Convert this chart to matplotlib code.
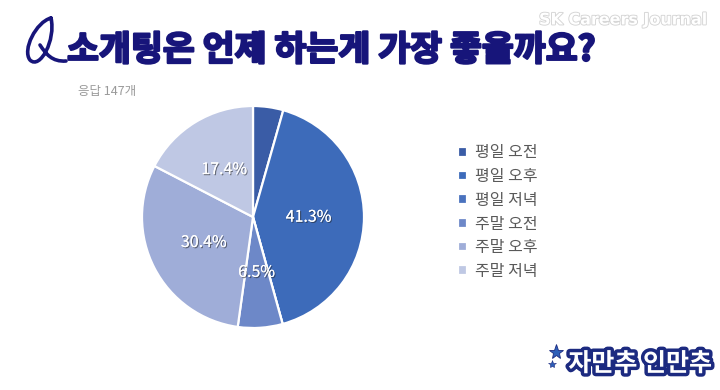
import matplotlib
matplotlib.use("Agg")
import matplotlib.pyplot as plt
import matplotlib.patheffects as pe
from matplotlib.patches import PathPatch
from matplotlib.path import Path

plt.rcParams["font.family"] = ["Noto Sans CJK KR", "DejaVu Sans"]

# data
categories = ["평일 오전", "평일 오후", "평일 저녁", "주말 오전", "주말 오후", "주말 저녁"]
shares = [4.4, 41.3, 0.0, 6.5, 30.4, 17.4]
colors = ["#3A5CA6", "#3D6BBA", "#4A72BE", "#6D88C8", "#9FADD8", "#BFC8E4"]
title = "소개팅은 언제 하는게 가장 좋을까요?"
note = "응답 147개"
NAVY = "#17157A"

W, H = 720, 390
fig = plt.figure(figsize=(W / 100, H / 100), dpi=100)
fig.patch.set_facecolor("white")

# pie axes placed by pixel geometry
cx, cy, r = 253, 217, 111
ax = fig.add_axes([(cx - r) / W, (H - cy - r) / H, 2 * r / W, 2 * r / H])
ax.set_aspect("equal")


def pct_label(p):
    return f"{p:.1f}%" if p >= 5 else ""


wedges, texts, autotexts = ax.pie(
    shares, colors=colors, startangle=90, counterclock=False,
    autopct=pct_label, pctdistance=0.5,
    wedgeprops=dict(edgecolor="white", linewidth=1.6),
    textprops=dict(color="white", fontsize=11.5, fontweight="medium"))
for t in autotexts:
    t.set_path_effects([pe.withSimplePatchShadow(offset=(0.8, -0.8),
                                                 shadow_rgbFace="#222222",
                                                 alpha=0.55),
                        pe.Normal()])
ax.set_xlim(-1.0, 1.0)
ax.set_ylim(-1.0, 1.0)

# legend on the right
fig.legend(wedges, categories, loc="upper left",
           bbox_to_anchor=(452 / W, 1 - 138 / H), frameon=False,
           fontsize=11.5, labelcolor="#595959", handlelength=0.55,
           handleheight=0.55, handletextpad=0.5, labelspacing=0.42,
           borderaxespad=0)

# title and notes
fig.text(67 / W, 1 - 50 / H, title, fontsize=25, fontweight="bold",
         color=NAVY, va="center", ha="left",
         path_effects=[pe.withStroke(linewidth=1.6, foreground=NAVY)])
fig.text(708 / W, 1 - 20 / H, "SK Careers Journal", fontsize=11.5,
         fontweight="bold", color="white", va="center", ha="right",
         family=["DejaVu Sans"],
         path_effects=[pe.withStroke(linewidth=1.3, foreground="#D4D4D4")])
fig.text(78 / W, 1 - 92 / H, note, fontsize=9, color="#9A9A9A",
         va="center", ha="left")

# Q-shaped logo at the top left
lax = fig.add_axes([0, 0, 1, 1], facecolor="none")
lax.set_xlim(0, W)
lax.set_ylim(H, 0)
lax.axis("off")
verts = [(51, 18), (36, 22), (22, 50), (30, 60),
         (40, 70), (56, 40), (51, 18),
         (40, 45), (46, 54), (52, 62), (66, 61)]
codes = [Path.MOVETO, Path.CURVE4, Path.CURVE4, Path.CURVE4,
         Path.CURVE4, Path.CURVE4, Path.CURVE4,
         Path.MOVETO, Path.CURVE4, Path.CURVE4, Path.CURVE4]
lax.add_patch(PathPatch(Path(verts, codes), facecolor="none",
                        edgecolor=NAVY, linewidth=2.6, capstyle="round"))

# badge at bottom right
fig.text(712 / W, 1 - 364 / H, "자만추 인만추", fontsize=18,
         fontweight="black", color="white", ha="right", va="center",
         path_effects=[pe.withStroke(linewidth=5, foreground="#1C2A80")])
lax.plot([556], [352], marker="*", markersize=11, color="#2D5FB8",
         markeredgecolor="#1C2A80", markeredgewidth=0.6)
lax.plot([552], [364], marker="*", markersize=6, color="#2D5FB8",
         markeredgecolor="#1C2A80", markeredgewidth=0.4)

fig.savefig("out.png", dpi=100)
